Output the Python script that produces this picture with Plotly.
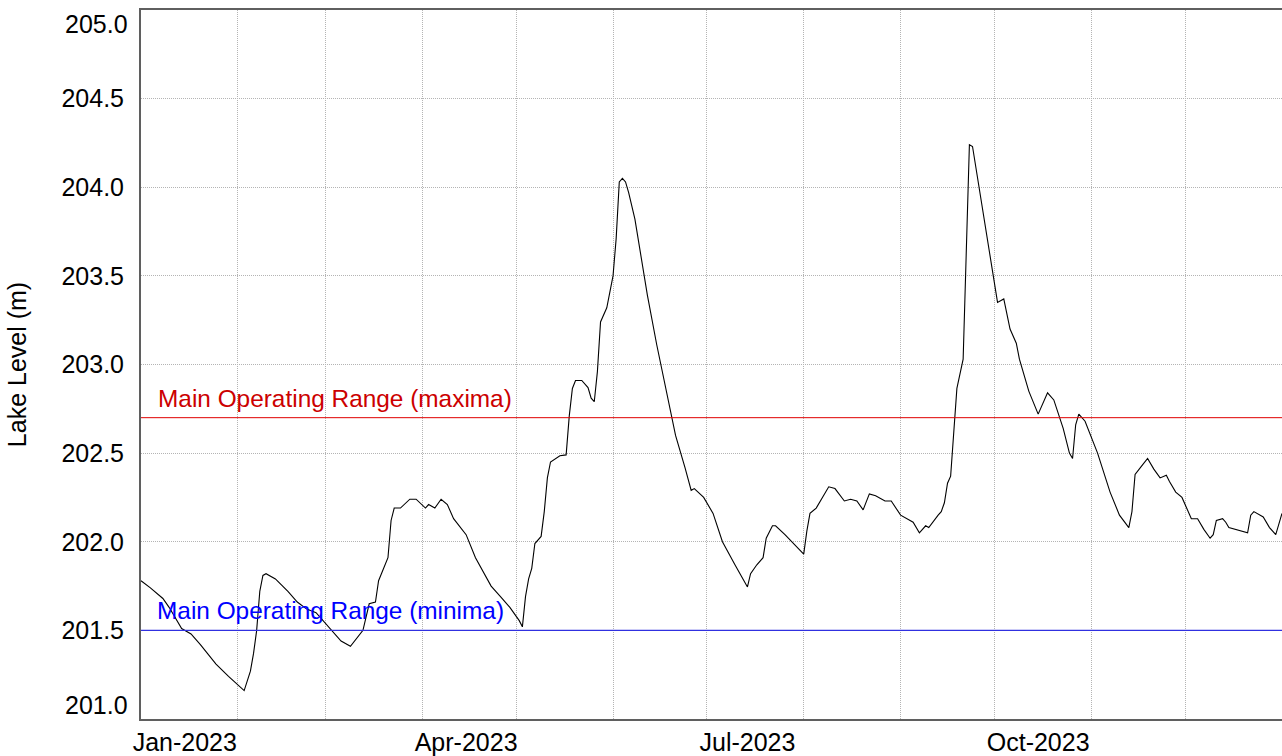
import plotly.graph_objects as go

# Daily lake level record, 2023 (m)
dates = [
    "2023-01-01", "2023-01-04", "2023-01-08", "2023-01-10", "2023-01-14", "2023-01-17",
    "2023-01-20", "2023-01-25", "2023-01-29", "2023-02-03", "2023-02-05", "2023-02-06",
    "2023-02-07", "2023-02-08", "2023-02-09", "2023-02-10", "2023-02-13", "2023-02-17",
    "2023-02-20", "2023-02-23", "2023-02-26", "2023-03-02", "2023-03-06", "2023-03-09",
    "2023-03-12", "2023-03-13", "2023-03-15", "2023-03-17", "2023-03-18", "2023-03-20",
    "2023-03-21", "2023-03-22", "2023-03-23", "2023-03-25", "2023-03-28", "2023-03-30",
    "2023-04-02", "2023-04-03", "2023-04-05", "2023-04-07", "2023-04-09", "2023-04-11",
    "2023-04-15", "2023-04-18", "2023-04-23", "2023-04-26", "2023-04-29", "2023-05-02",
    "2023-05-03", "2023-05-04", "2023-05-05", "2023-05-06", "2023-05-07", "2023-05-09",
    "2023-05-10", "2023-05-11", "2023-05-12", "2023-05-15", "2023-05-17", "2023-05-18",
    "2023-05-19", "2023-05-20", "2023-05-22", "2023-05-24", "2023-05-25", "2023-05-26",
    "2023-05-27", "2023-05-28", "2023-05-30", "2023-06-01", "2023-06-02", "2023-06-03",
    "2023-06-04", "2023-06-05", "2023-06-06", "2023-06-08", "2023-06-10", "2023-06-12",
    "2023-06-15", "2023-06-18", "2023-06-21", "2023-06-24", "2023-06-26", "2023-06-27",
    "2023-06-30", "2023-07-03", "2023-07-06", "2023-07-10", "2023-07-13", "2023-07-14",
    "2023-07-15", "2023-07-17", "2023-07-19", "2023-07-20", "2023-07-22", "2023-07-23",
    "2023-07-26", "2023-07-29", "2023-07-31", "2023-08-01", "2023-08-02", "2023-08-03",
    "2023-08-05", "2023-08-07", "2023-08-09", "2023-08-11", "2023-08-14", "2023-08-16",
    "2023-08-18", "2023-08-20", "2023-08-22", "2023-08-24", "2023-08-27", "2023-08-29",
    "2023-09-01", "2023-09-05", "2023-09-07", "2023-09-09", "2023-09-10", "2023-09-13",
    "2023-09-14", "2023-09-15", "2023-09-16", "2023-09-17", "2023-09-19", "2023-09-21",
    "2023-09-22", "2023-09-23", "2023-09-24", "2023-09-26", "2023-09-29", "2023-10-02",
    "2023-10-04", "2023-10-06", "2023-10-08", "2023-10-09", "2023-10-12", "2023-10-15",
    "2023-10-18", "2023-10-20", "2023-10-23", "2023-10-25", "2023-10-26", "2023-10-27",
    "2023-10-28", "2023-10-30", "2023-11-03", "2023-11-07", "2023-11-10", "2023-11-13",
    "2023-11-14", "2023-11-15", "2023-11-17", "2023-11-19", "2023-11-21", "2023-11-23",
    "2023-11-25", "2023-11-26", "2023-11-28", "2023-11-30", "2023-12-03", "2023-12-05",
    "2023-12-07", "2023-12-09", "2023-12-10", "2023-12-11", "2023-12-13", "2023-12-14",
    "2023-12-15", "2023-12-17", "2023-12-19", "2023-12-21", "2023-12-22", "2023-12-23",
    "2023-12-26", "2023-12-28", "2023-12-30", "2023-12-31", "2024-01-01",
]

levels = [
    201.78, 201.74, 201.68, 201.63, 201.51, 201.48,
    201.42, 201.31, 201.24, 201.16, 201.27, 201.37,
    201.50, 201.72, 201.81, 201.82, 201.79, 201.72,
    201.66, 201.62, 201.60, 201.52, 201.44, 201.41,
    201.48, 201.50, 201.65, 201.66, 201.78, 201.86,
    201.91, 202.12, 202.19, 202.19, 202.24, 202.24,
    202.19, 202.21, 202.19, 202.24, 202.21, 202.13,
    202.04, 201.91, 201.75, 201.69, 201.63, 201.555,
    201.52, 201.69, 201.79, 201.85, 201.99, 202.03,
    202.17, 202.36, 202.45, 202.485, 202.49, 202.71,
    202.865, 202.91, 202.91, 202.87, 202.81, 202.79,
    202.96, 203.24, 203.32, 203.50, 203.71, 204.03,
    204.05, 204.03, 203.97, 203.82, 203.61, 203.39,
    203.11, 202.85, 202.60, 202.42, 202.29, 202.30,
    202.25, 202.16, 202.00, 201.87, 201.77, 201.745,
    201.82, 201.87, 201.91, 202.02, 202.09, 202.09,
    202.04, 201.985, 201.95, 201.93, 202.06, 202.16,
    202.19, 202.25, 202.31, 202.30, 202.23, 202.24,
    202.23, 202.18, 202.27, 202.26, 202.23, 202.23,
    202.15, 202.11, 202.05, 202.09, 202.08, 202.15,
    202.17, 202.22, 202.33, 202.37, 202.865, 203.03,
    203.58, 204.24, 204.23, 204.01, 203.67, 203.35,
    203.37, 203.20, 203.12, 203.03, 202.85, 202.72,
    202.84, 202.80, 202.64, 202.50, 202.47, 202.66,
    202.72, 202.68, 202.50, 202.28, 202.15, 202.08,
    202.17, 202.38, 202.425, 202.47, 202.41, 202.36,
    202.375, 202.34, 202.28, 202.25, 202.13, 202.13,
    202.07, 202.02, 202.04, 202.12, 202.13, 202.11,
    202.08, 202.07, 202.06, 202.05, 202.15, 202.17,
    202.14, 202.08, 202.04, 202.10, 202.16,
]

# Operating range limits (m)
range_max = 202.7
range_min = 201.5
range_labels = ["Main Operating Range (maxima)", "Main Operating Range (minima)"]

# Axis settings
y_range = [201.0, 205.0]
y_inner_ticks = [201.5, 202.0, 202.5, 203.0, 203.5, 204.0, 204.5]
y_edge_ticks = [201.0, 205.0]
x_range = ["2023-01-01", "2024-01-01"]
x_label_pos = ["2023-01-15", "2023-04-15", "2023-07-14", "2023-10-15"]
x_label_text = ["Jan-2023", "Apr-2023", "Jul-2023", "Oct-2023"]

FONT = "Liberation Sans, Arial, sans-serif"
GRID = "#b4b4b4"
AXIS = "#5f5f5f"
GRID_DASH = "1px,1px"

fig = go.Figure()
fig.add_trace(go.Scatter(
    x=dates, y=levels, mode="lines",
    line=dict(color="black", width=1.1),
    showlegend=False,
))

# Operating range lines
fig.add_shape(type="line", xref="paper", x0=0, x1=1, yref="y", y0=range_max, y1=range_max,
              line=dict(color="#e00000", width=1), layer="above")
fig.add_shape(type="line", xref="paper", x0=0, x1=1, yref="y", y0=range_min, y1=range_min,
              line=dict(color="#3030e0", width=1.1), layer="above")

fig.add_annotation(text=range_labels[0], xref="paper", x=0, xanchor="left", xshift=15,
                   yref="y", y=range_max, yanchor="bottom", yshift=4, showarrow=False,
                   font=dict(family=FONT, size=24.4, color="#cc0000"))
fig.add_annotation(text=range_labels[1], xref="paper", x=0, xanchor="left", xshift=14,
                   yref="y", y=range_min, yanchor="bottom", yshift=4, showarrow=False,
                   font=dict(family=FONT, size=24.4, color="#0000ff"))

# End labels of the level axis sit just inside the frame
for val, shift in zip(y_edge_ticks, [14, -14]):
    fig.add_annotation(text=f"{val:.1f}", xref="paper", x=0, xanchor="right", xshift=-11,
                       yref="y", y=val, yanchor="middle", yshift=shift, showarrow=False,
                       font=dict(family=FONT, size=25, color="black"))

fig.update_layout(
    width=1282, height=756,
    margin=dict(l=141, r=0, t=10, b=34),
    paper_bgcolor="white", plot_bgcolor="white",
    font=dict(family=FONT, size=25, color="black"),
    xaxis=dict(
        type="date", range=x_range,
        tickmode="array", tickvals=x_label_pos, ticktext=x_label_text,
        showgrid=False, ticks="", zeroline=False,
        showline=True, linecolor=AXIS, linewidth=2, mirror=True,
        tickfont=dict(size=25),
        minor=dict(tickmode="linear", tick0="2023-01-01", dtick="M1",
                   showgrid=True, gridcolor=GRID, griddash=GRID_DASH, gridwidth=1, ticks=""),
    ),
    yaxis=dict(
        range=y_range, tickmode="array", tickvals=y_inner_ticks,
        ticktext=[f"{v:.1f}" for v in y_inner_ticks],
        showgrid=True, gridcolor=GRID, griddash=GRID_DASH, gridwidth=1,
        ticks="", ticklabelstandoff=10, zeroline=False,
        showline=True, linecolor=AXIS, linewidth=2,
        title=dict(text="Lake Level (m)", font=dict(size=25), standoff=28),
        tickfont=dict(size=25),
    ),
)

fig.write_html("out.html")
